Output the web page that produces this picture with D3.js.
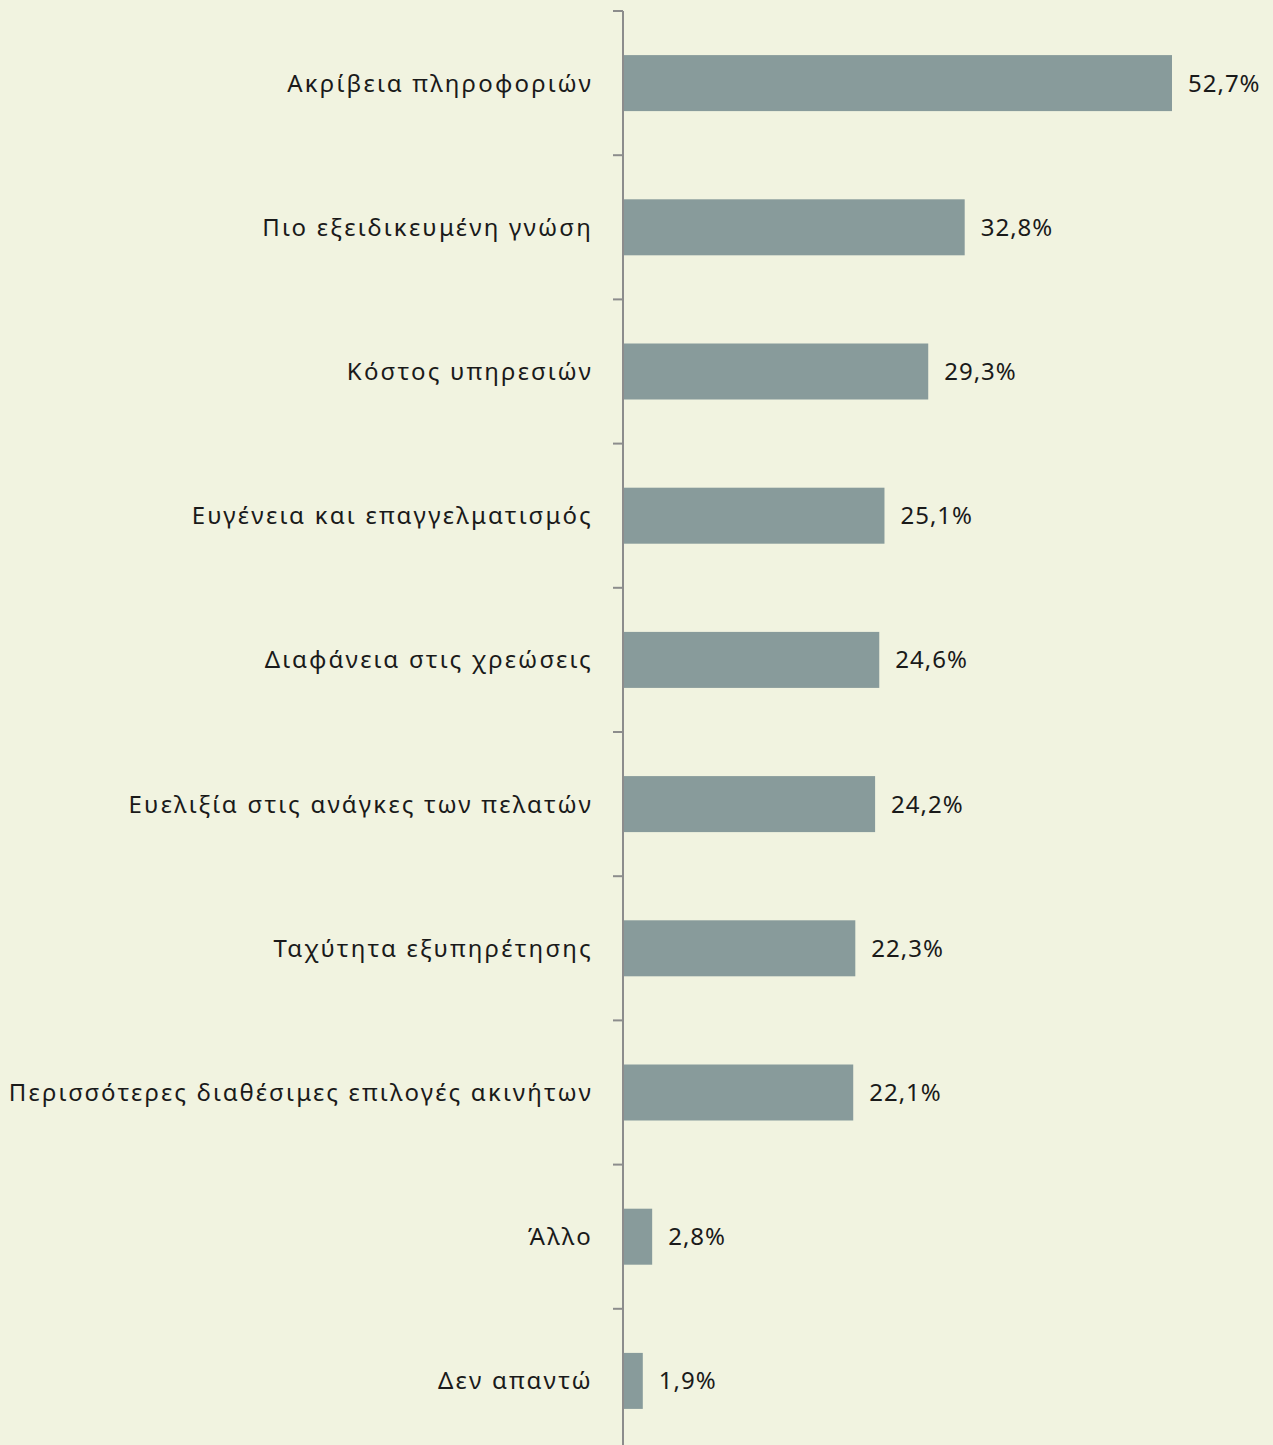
<!DOCTYPE html>
<html>
<head>
<meta charset="utf-8">
<script src="https://cdn.jsdelivr.net/npm/d3@7"></script>
<style>
  html, body { margin: 0; padding: 0; background: #f1f3e0; }
  svg { display: block; }
  text { font-family: "Noto Sans", sans-serif; fill: #1a1a1a; }
</style>
</head>
<body>
<div id="chart"></div>
<script>
var categories = [
    "Ακρίβεια πληροφοριών",
    "Πιο εξειδικευμένη γνώση",
    "Κόστος υπηρεσιών",
    "Ευγένεια και επαγγελματισμός",
    "Διαφάνεια στις χρεώσεις",
    "Ευελιξία στις ανάγκες των πελατών",
    "Ταχύτητα εξυπηρέτησης",
    "Περισσότερες διαθέσιμες επιλογές ακινήτων",
    "Άλλο",
    "Δεν απαντώ"
];
var values = [52.7, 32.8, 29.3, 25.1, 24.6, 24.2, 22.3, 22.1, 2.8, 1.9];

var width = 1273,
    height = 1445,
    axisX = 623,
    topY = 11,
    step = 144.2;

var svg = d3.select("#chart").append("svg")
    .attr("width", width)
    .attr("height", height);

var y = d3.scaleBand()
    .domain(categories)
    .range([topY, topY + step * categories.length])
    .paddingInner(0)
    .paddingOuter(0);

var x = d3.scaleLinear()
    .domain([0, 52.7])
    .range([axisX, 1172]);

var barH = 56;

// bars
svg.append("g").selectAll("rect")
    .data(categories)
    .enter().append("rect")
    .attr("x", x(0))
    .attr("y", function(d) { return y(d) + y.bandwidth() / 2 - barH / 2; })
    .attr("width", function(d, i) { return x(values[i]) - x(0); })
    .attr("height", barH)
    .style("fill", "#889b9b");

// axis line and boundary ticks
var axis = svg.append("g").style("stroke", "#8c8c8c").style("stroke-width", 2);
axis.append("line")
    .attr("x1", axisX).attr("x2", axisX)
    .attr("y1", topY).attr("y2", height + 5);
axis.selectAll("line.tick")
    .data(categories)
    .enter().append("line")
    .attr("class", "tick")
    .attr("x1", axisX - 10).attr("x2", axisX)
    .attr("y1", function(d) { return y(d); })
    .attr("y2", function(d) { return y(d); });

// category labels
svg.append("g").selectAll("text")
    .data(categories)
    .enter().append("text")
    .attr("x", axisX - 30)
    .attr("y", function(d) { return y(d) + y.bandwidth() / 2; })
    .attr("dy", "0.35em")
    .attr("text-anchor", "end")
    .style("font-size", "24px")
    .style("letter-spacing", "2.2px")
    .text(function(d) { return d; });

// value labels
svg.append("g").selectAll("text")
    .data(categories)
    .enter().append("text")
    .attr("x", function(d, i) { return x(values[i]) + 16; })
    .attr("y", function(d) { return y(d) + y.bandwidth() / 2; })
    .attr("dy", "0.35em")
    .style("font-size", "24px")
    .style("letter-spacing", "1px")
    .text(function(d, i) { return d3.format(".1f")(values[i]).replace(".", ",") + "%"; });
</script>
</body>
</html>
